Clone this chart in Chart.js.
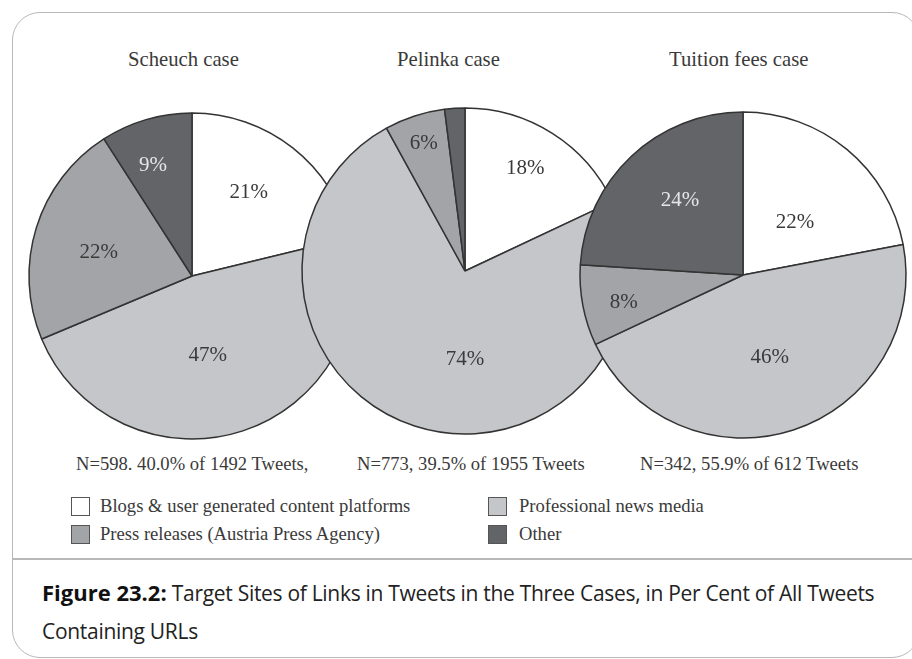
<!DOCTYPE html>
<html>
<head>
<meta charset="utf-8">
<script src="https://cdn.jsdelivr.net/npm/chart.js@4.4.1/dist/chart.umd.min.js"></script>
<style>
    html, body { margin: 0; padding: 0; background: #fff; overflow: hidden; }
    #wrap { position: relative; width: 912px; height: 659px; overflow: hidden; }
    #frame {
        position: absolute; left: 12px; top: 12px; width: 908px; height: 646px;
        border: 1.5px solid #b8b8b8; border-radius: 28px; box-sizing: border-box;
    }
    #rule { position: absolute; left: 12px; top: 558px; width: 900px; height: 2px; background: #b8b8b8; }
    canvas { position: absolute; }
    .serif { position: absolute; font-family: "Liberation Serif", "DejaVu Serif", serif; color: #3a3a3a; white-space: nowrap; }
    .title { font-size: 20.7px; top: 48px; }
    .note { font-size: 18.6px; top: 453px; }
    .leg { position: absolute; font-family: "Liberation Serif", serif; font-size: 18.6px; color: #3a3a3a; white-space: nowrap; }
    .leg i { position: absolute; width: 17px; height: 17px; border: 1px solid #555; }
    .leg span { position: absolute; top: -2px; }
    #caption {
        position: absolute; left: 42px; top: 573px; font-family: "Open Sans", sans-serif;
        font-size: 21px; letter-spacing: -0.3px; line-height: 38px; color: #222; white-space: nowrap;
    }
    #caption b { font-weight: 700; font-size: 22px; letter-spacing: 0; color: #111; }
</style>
</head>
<body>
<div id="wrap">
    <div id="frame"></div>
    <div id="rule"></div>
    <canvas id="pie0" width="340" height="340" style="left:22px;top:106px"></canvas>
    <canvas id="pie1" width="340" height="340" style="left:295px;top:101px"></canvas>
    <canvas id="pie2" width="340" height="340" style="left:573px;top:105px"></canvas>
    <div class="serif title" style="left:128px">Scheuch case</div>
    <div class="serif title" style="left:397px">Pelinka case</div>
    <div class="serif title" style="left:669px">Tuition fees case</div>
    <div class="serif note" style="left:76px">N=598. 40.0% of 1492 Tweets,</div>
    <div class="serif note" style="left:357px">N=773, 39.5% of 1955 Tweets</div>
    <div class="serif note" style="left:640px">N=342, 55.9% of 612 Tweets</div>
    <div id="legend"></div>
    <div id="caption"><b>Figure 23.2:</b> Target Sites of Links in Tweets in the Three Cases, in Per Cent of All Tweets<br>Containing URLs</div>
</div>
<script>
// Kategori tujuan link
const categories = ['Blogs & user generated content platforms', 'Professional news media', 'Press releases (Austria Press Agency)', 'Other'];
const sliceColors = ['#ffffff', '#c4c6c9', '#a2a4a7', '#626468'];

// Persentase per kasus (urutan sama dengan categories)
const scheuchValues = [21, 47, 22, 9];
const pelinkaValues = [18, 74, 6, 2];
const tuitionValues = [22, 46, 8, 24];

// Plugin kecil untuk menulis persen di dalam irisan
const sliceLabels = {
    id: 'sliceLabels',
    afterDatasetsDraw(chart, args, opts) {
        const ctx = chart.ctx;
        const meta = chart.getDatasetMeta(0);
        const values = chart.data.datasets[0].data;
        ctx.save();
        ctx.font = '21px "Liberation Serif", serif';
        ctx.textAlign = 'center';
        ctx.textBaseline = 'middle';
        meta.data.forEach((arc, i) => {
            const f = opts.radius[i];
            if (f == null) return;
            const p = arc.getProps(['x', 'y', 'startAngle', 'endAngle', 'outerRadius'], true);
            const mid = (p.startAngle + p.endAngle) / 2 + (opts.shift[i] || 0) * Math.PI / 180;
            ctx.fillStyle = i === 3 ? '#e6e6e6' : '#3a3a3a';
            ctx.fillText(values[i] + '%', p.x + Math.cos(mid) * p.outerRadius * f, p.y + Math.sin(mid) * p.outerRadius * f);
        });
        ctx.restore();
    }
};

function makePie(id, values, labelRadius, labelShift) {
    const ctx = document.getElementById(id).getContext('2d');
    return new Chart(ctx, {
        type: 'pie',
        data: {
            labels: categories,
            datasets: [{
                data: values,
                backgroundColor: sliceColors,
                borderColor: '#333333',
                borderWidth: 1.5
            }]
        },
        options: {
            responsive: false,
            animation: false,
            events: [],
            radius: 163,
            layout: { padding: 0 },
            plugins: {
                legend: { display: false },
                tooltip: { enabled: false },
                sliceLabels: { radius: labelRadius, shift: labelShift }
            }
        },
        plugins: [sliceLabels]
    });
}

makePie('pie0', scheuchValues, [0.62, 0.5, 0.59, 0.72], [-4, 7, -3, -3]);
makePie('pie1', pelinkaValues, [0.73, 0.54, 0.82, null], [-2, -18, 0, 0]);
makePie('pie2', tuitionValues, [0.455, 0.53, 0.75, 0.6], [5, 0, -2, 3]);

// Legenda 2x2
const legend = document.getElementById('legend');
const legendPos = [[71, 497], [488, 497], [71, 525], [488, 525]];
categories.forEach((name, i) => {
    const el = document.createElement('div');
    el.className = 'leg';
    el.style.left = legendPos[i][0] + 'px';
    el.style.top = legendPos[i][1] + 'px';
    el.innerHTML = '<i style="background:' + sliceColors[i] + '"></i><span style="left:' + (i % 2 ? 31 : 29) + 'px">' + name.replace('&', '&amp;') + '</span>';
    legend.appendChild(el);
});
</script>
</body>
</html>
